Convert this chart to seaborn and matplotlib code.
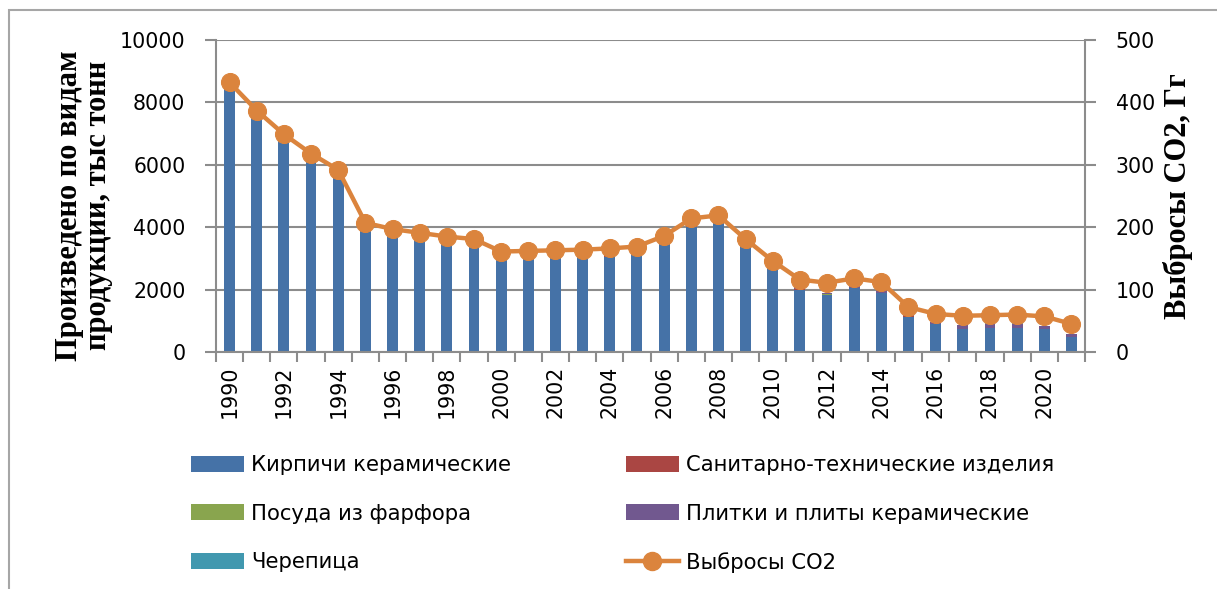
import numpy as np
import pandas as pd
import matplotlib
matplotlib.use("Agg")
import matplotlib.pyplot as plt
from matplotlib.patches import Patch, Rectangle
from matplotlib.lines import Line2D
import seaborn as sns

years = list(range(1990, 2022))
bricks = [8550, 7550, 6800, 6150, 5620, 3960, 3750, 3640, 3480, 3380,
          3000, 3050, 3050, 3050, 3060, 3110, 3480, 4010, 4120, 3380,
          2680, 2000, 1830, 2040, 1880, 1130, 900, 730, 760, 760, 730, 470]
sanitary = [25, 22, 20, 18, 16, 12, 12, 12, 12, 12,
            12, 12, 12, 12, 12, 12, 14, 15, 15, 12,
            10, 10, 10, 10, 10, 10, 10, 10, 10, 10, 10, 8]
porcelain = [6, 5, 5, 4, 4, 3, 3, 3, 3, 3,
             3, 3, 3, 3, 3, 3, 3, 3, 3, 3,
             3, 3, 3, 3, 3, 3, 3, 3, 3, 3, 3, 3]
tiles = [30, 28, 26, 24, 22, 20, 20, 20, 22, 24,
         26, 28, 30, 32, 35, 40, 45, 50, 55, 60,
         60, 60, 60, 65, 80, 50, 55, 110, 140, 140, 85, 107]
roof_tiles = [4, 4, 4, 3, 3, 3, 3, 3, 3, 3,
              3, 3, 3, 3, 3, 3, 3, 3, 3, 3,
              3, 3, 3, 3, 3, 3, 3, 3, 3, 3, 3, 3]
co2 = [432, 387, 349, 318, 292, 207, 197, 191, 185, 181,
       161, 162, 163, 164, 166, 169, 186, 214, 219, 181,
       146, 116, 111, 118, 112, 72, 61, 58, 59, 60, 57, 45]

series_names = ["Кирпичи керамические", "Санитарно-технические изделия",
                "Посуда из фарфора", "Плитки и плиты керамические", "Черепица"]
line_name = "Выбросы CO2"
colors = ["#4572A7", "#AA4643", "#89A54E", "#71588F", "#4198AF"]
line_color = "#DB843D"
grid_color = "#8C8C8C"

stack = [bricks, sanitary, porcelain, tiles, roof_tiles]
cum = np.cumsum(np.array(stack, dtype=float), axis=0)
year_labels = [str(y) for y in years]
n = len(years)

fig = plt.figure(figsize=(12.17, 5.89), dpi=100)
ax = fig.add_axes([216/1217, 1-352/589, (1085-216)/1217, 312/589])

# draw cumulative tops from the top-most layer down
for i in range(len(stack)-1, -1, -1):
    df = pd.DataFrame({"year": year_labels, "val": cum[i]})
    sns.barplot(data=df, x="year", y="val", color=colors[i], saturation=1,
                width=0.4, errorbar=None, ax=ax, linewidth=0, zorder=2)

ax.set_xlim(-0.5, n-0.5)
ax.set_ylim(0, 10000)
ax.set_yticks(np.arange(0, 10001, 2000))
ax.set_yticklabels([str(v) for v in range(0, 10001, 2000)])
ax.set_xticks(range(0, n, 2))
ax.set_xticklabels(year_labels[::2], rotation=90)
ax.set_xticks(np.arange(-0.5, n, 1), minor=True)
ax.tick_params(axis="x", which="major", length=0, pad=10, labelsize=14.8)
ax.tick_params(axis="x", which="minor", length=7, width=1.5, color=grid_color, direction="out")
ax.tick_params(axis="y", which="major", length=8, width=1.5, color=grid_color, labelsize=14.8, pad=14)
ax.yaxis.grid(True, color=grid_color, lw=1.5, zorder=0)
ax.set_axisbelow(True)
for s in ["left", "bottom", "right"]:
    ax.spines[s].set_color(grid_color)
    ax.spines[s].set_linewidth(1.5)
ax.spines["top"].set_visible(False)
ax.set_xlabel("")
ax.set_ylabel("Произведено по видам\nпродукции, тыс тонн", family="Liberation Serif",
              fontweight="bold", fontsize=22, linespacing=1.0)
ax.yaxis.set_label_coords((113-216)/869, 0.47)

ax2 = ax.twinx()
sns.lineplot(x=np.arange(n), y=co2, ax=ax2, color=line_color, lw=3.2,
             marker="o", markersize=13, markeredgecolor=line_color, zorder=5)
ax2.set_ylim(0, 500)
ax2.set_yticks(np.arange(0, 501, 100))
ax2.set_yticklabels([str(v) for v in range(0, 501, 100)])
ax2.tick_params(axis="y", length=8, width=1.5, color=grid_color, labelsize=14.8, pad=14)
for s in ["left", "bottom", "right", "top"]:
    ax2.spines[s].set_visible(False)
ax2.set_ylabel("Выбросы CO2, Гг", family="Liberation Serif", fontweight="bold",
               fontsize=22, rotation=90, va="center", ha="center")
ax2.yaxis.set_label_coords((1178-216)/869, 0.5)
ax2.set_xlim(-0.5, n-0.5)

# legend
fs = 15.2
h = [Patch(facecolor=c, edgecolor="none") for c in colors]
hl = Line2D([], [], color=line_color, lw=3.2, marker="o", markersize=13)
kw = dict(frameon=False, fontsize=fs, handlelength=2.5, handleheight=0.77,
          handletextpad=0.35, labelspacing=1.35, borderpad=0, borderaxespad=0,
          loc="upper left")
leg1 = fig.legend([h[0], h[2], h[4]], [series_names[0], series_names[2], series_names[4]],
                  bbox_to_anchor=(191/1217, 1-455/589), **kw)
leg2 = fig.legend([h[1], h[3], hl], [series_names[1], series_names[3], line_name],
                  bbox_to_anchor=(626/1217, 1-455/589), **kw)

fig.add_artist(Rectangle((9/1217, -0.2), 1.5, 1.2 - 10/589 , transform=fig.transFigure,
                         fill=False, ec="#A6A6A6", lw=1.5))

fig.savefig("out.png", dpi=100)
